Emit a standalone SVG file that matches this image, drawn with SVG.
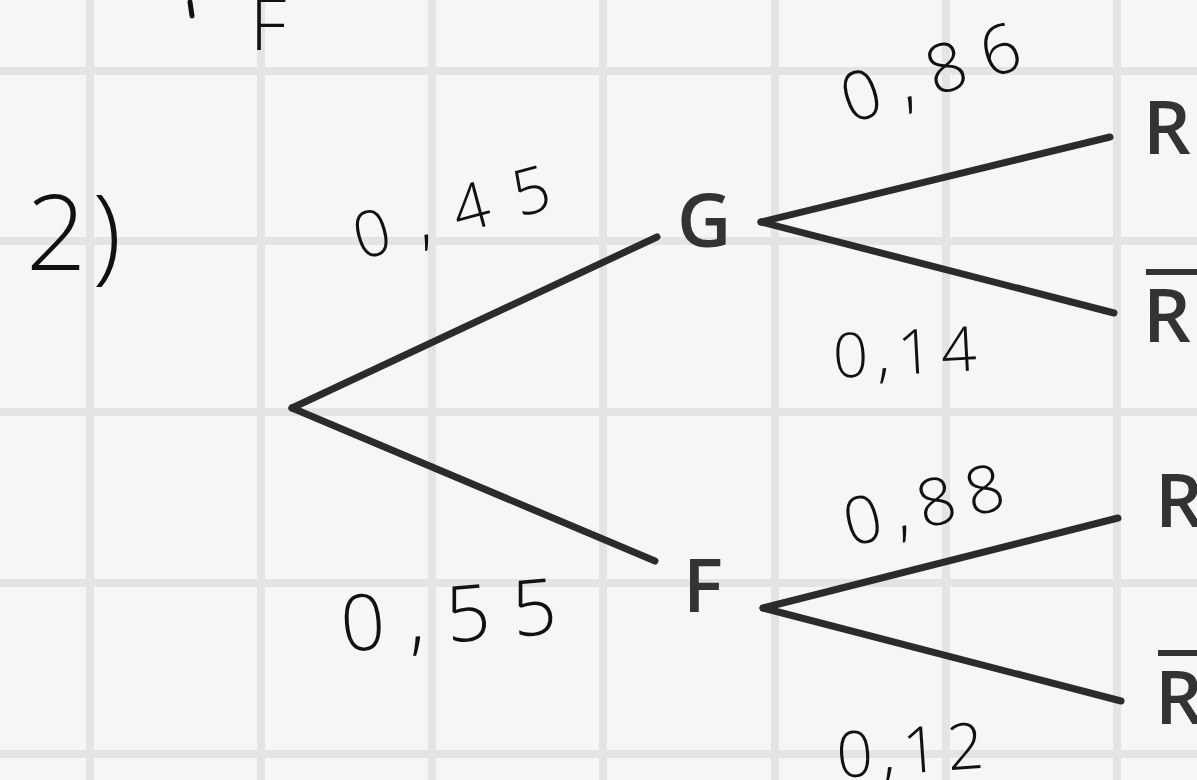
<svg xmlns="http://www.w3.org/2000/svg" width="1197" height="780" viewBox="0 0 1197 780">
<style>
.grid line{stroke:#e4e4e4;stroke-width:8}
.edge{stroke:#2b2b2b;stroke-width:7;stroke-linecap:round;fill:none}
.node{font-family:"Open Sans","DejaVu Sans",sans-serif;font-weight:600;font-size:75px;fill:#333333}
.hand{font-family:"Open Sans","DejaVu Sans",sans-serif;font-weight:300;fill:#111111}
.bar{stroke:#333333;stroke-width:6}
</style>
<rect width="1197" height="780" fill="#f6f6f6"/>
<g class="grid">
<line x1="90" y1="0" x2="90" y2="780"/>
<line x1="261" y1="0" x2="261" y2="780"/>
<line x1="432" y1="0" x2="432" y2="780"/>
<line x1="603" y1="0" x2="603" y2="780"/>
<line x1="775" y1="0" x2="775" y2="780"/>
<line x1="946" y1="0" x2="946" y2="780"/>
<line x1="1117" y1="0" x2="1117" y2="780"/>
<line x1="0" y1="71" x2="1197" y2="71"/>
<line x1="0" y1="241" x2="1197" y2="241"/>
<line x1="0" y1="412" x2="1197" y2="412"/>
<line x1="0" y1="583" x2="1197" y2="583"/>
<line x1="0" y1="754" x2="1197" y2="754"/>
</g>
<g id="prev">
<text class="hand" x="250" y="50" font-size="72" font-weight="400">F</text>
<line x1="190" y1="2" x2="192" y2="16" stroke="#111" stroke-width="5" stroke-linecap="round"/>
<text class="hand" x="26" y="270" font-size="106" letter-spacing="6">2)</text>
</g>
<g id="connectors">
<line class="edge" x1="292" y1="408" x2="657" y2="237"/>
<line class="edge" x1="292" y1="408" x2="655" y2="561"/>
<line class="edge" x1="761" y1="222" x2="1110" y2="137"/>
<line class="edge" x1="761" y1="222" x2="1114" y2="313"/>
<line class="edge" x1="763" y1="608" x2="1118" y2="518"/>
<line class="edge" x1="763" y1="608" x2="1121" y2="701"/>
</g>
<g id="labels">
<text class="hand" font-size="64" letter-spacing="26" transform="rotate(-15 360 260)" x="360" y="260">0,45</text>
<text class="hand" font-size="68" letter-spacing="18" transform="rotate(-18 850 124)" x="850" y="124">0,86</text>
<text class="hand" font-size="62" letter-spacing="8" transform="rotate(-3 834 378)" x="834" y="378">0,14</text>
<text class="hand" font-size="66" letter-spacing="12" transform="rotate(-14 850 547)" x="850" y="547">0,88</text>
<text class="hand" font-size="78" letter-spacing="22" transform="rotate(-5 343 652)" x="343" y="652">0,55</text>
<text class="hand" font-size="64" letter-spacing="8" transform="rotate(-4 838 778)" x="838" y="778">0,12</text>
</g>
<g id="node-G"><text class="node" x="677" y="247">G</text></g>
<g id="node-F"><text class="node" x="683" y="612">F</text></g>
<g id="node-R1"><text class="node" x="1143" y="154">R</text></g>
<g id="node-Rbar1"><text class="node" x="1143" y="342">R</text><line class="bar" x1="1146" y1="272" x2="1197" y2="272"/></g>
<g id="node-R2"><text class="node" x="1155" y="527">R</text></g>
<g id="node-Rbar2"><text class="node" x="1155" y="724">R</text><line class="bar" x1="1158" y1="653" x2="1197" y2="653"/></g>
</svg>
